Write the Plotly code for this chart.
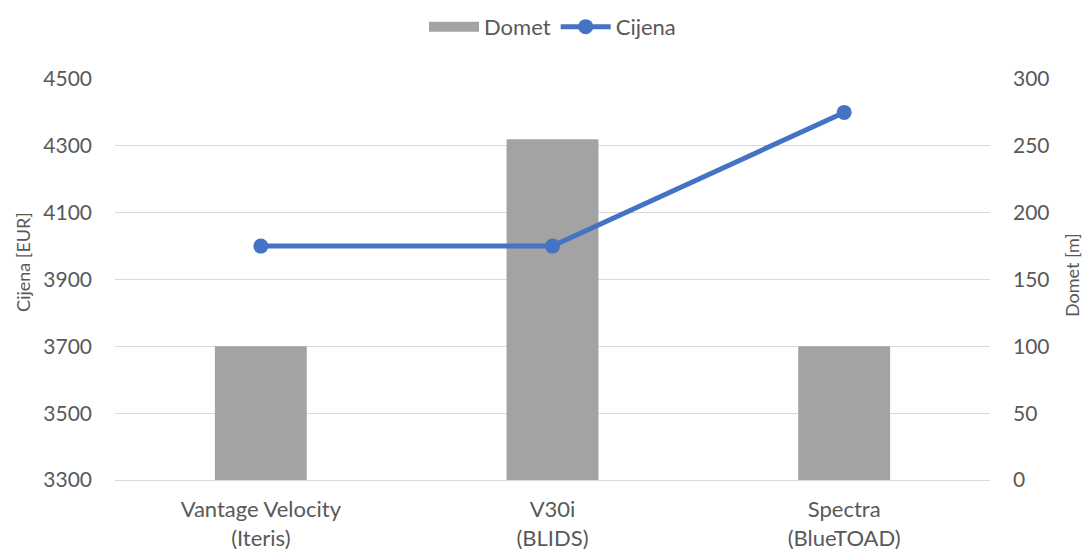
import plotly.graph_objects as go

categories = ["Vantage Velocity<br>(Iteris)", "V30i<br>(BLIDS)", "Spectra<br>(BlueTOAD)"]
domet = [100, 255, 100]
cijena = [4000, 4000, 4400]
left_title = "Cijena [EUR]"
right_title = "Domet [m]"

FONT = "Lato"
TXT = "#595959"
BAR = "#A3A3A3"

fig = go.Figure()
fig.add_trace(go.Bar(
    x=categories, y=domet, name="Domet", yaxis="y",
    marker=dict(color=BAR, line=dict(width=0)),
    width=0.315, showlegend=False, legendgroup="domet",
))
# legend entry for the bars (wide grey swatch as in the original)
fig.add_trace(go.Scatter(
    x=[None], y=[None], name="Domet", yaxis="y", mode="lines",
    line=dict(color=BAR, width=13), legendgroup="domet", hoverinfo="skip",
))
fig.add_trace(go.Scatter(
    x=categories, y=cijena, name="Cijena", yaxis="y2",
    mode="lines+markers",
    line=dict(color="#4472C4", width=5),
    marker=dict(color="#4472C4", size=15),
))

fig.update_layout(
    width=1085, height=551,
    margin=dict(l=115, r=95, t=79, b=71, autoexpand=False),
    paper_bgcolor="white", plot_bgcolor="white",
    font=dict(family=FONT, color=TXT, size=20),
    showlegend=True,
    legend=dict(orientation="h", x=0.5, xanchor="center", y=1.13, yanchor="middle",
                font=dict(size=22, color=TXT), traceorder="normal",
                itemwidth=50, bgcolor="rgba(0,0,0,0)"),
    xaxis=dict(showgrid=False, showline=True, linecolor="#D9D9D9", linewidth=1,
               ticks="", tickfont=dict(size=22, color=TXT), automargin=False,
               ticklabelstandoff=10),
    yaxis=dict(side="right", range=[0, 300], tick0=0, dtick=50, showgrid=True,
               gridcolor="#D9D9D9", gridwidth=1, zeroline=False, automargin=False,
               tickfont=dict(size=21, color=TXT), ticklabelstandoff=22),
    yaxis2=dict(side="left", overlaying="y", range=[3300, 4500], tick0=3300, dtick=200,
                showgrid=True, gridcolor="#D9D9D9", gridwidth=1, zeroline=False,
                automargin=False,
                tickfont=dict(size=21, color=TXT), ticklabelstandoff=22),
    annotations=[
        dict(text=left_title, xref="paper", yref="paper", x=-0.1051, y=0.544,
             xanchor="center", yanchor="middle", textangle=-90, showarrow=False,
             font=dict(size=18, color=TXT)),
        dict(text=right_title, xref="paper", yref="paper", x=1.0937, y=0.511,
             xanchor="center", yanchor="middle", textangle=-90, showarrow=False,
             font=dict(size=18, color=TXT)),
    ],
)

fig.write_html(
    "out.html",
    config={"displayModeBar": False},
    post_script="document.body.style.margin='0';"
                "document.documentElement.style.overflow='hidden';"
                "document.body.style.overflow='hidden';",
)
